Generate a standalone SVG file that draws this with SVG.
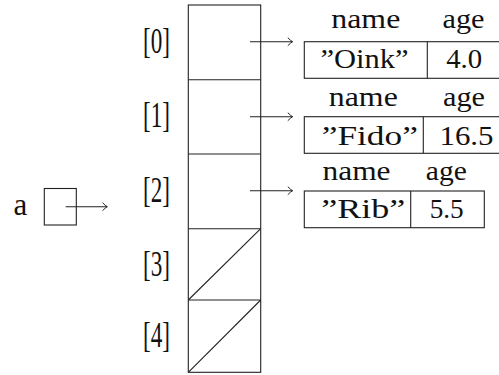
<svg xmlns="http://www.w3.org/2000/svg" width="499" height="375" viewBox="0 0 499 375">
  <style>
    .ln { fill: none; stroke: #222; stroke-width: 1.1; }
    .tx { font-family: "Liberation Serif", "DejaVu Serif", serif; fill: #111; text-anchor: middle; }
    .idx { font-size: 35px; }
    .fld { font-size: 27px; }
    .val { font-size: 28px; }
  </style>
  <defs>
    <marker id="to" markerWidth="10" markerHeight="10" refX="0" refY="0" viewBox="-6 -5 8 10" orient="auto" markerUnits="userSpaceOnUse">
      <path d="M -4.5,-4 Q -1.5,-0.8 0.4,0 Q -1.5,0.8 -4.5,4" fill="none" stroke="#222" stroke-width="1"/>
    </marker>
  </defs>
  <rect width="499" height="375" fill="#fff"/>

  <!-- variable a -->
  <g id="var-a">
    <text class="tx" x="20.5" y="215" style="font-size:31px">a</text>
    <rect class="ln" x="44.3" y="188.5" width="32" height="36.5"/>
  </g>

  <!-- array of five references -->
  <g id="array">
    <rect class="ln" x="188.3" y="5" width="72.4" height="367.3"/>
    <line class="ln" x1="188.3" y1="79.7" x2="260.7" y2="79.7"/>
    <line class="ln" x1="188.3" y1="154" x2="260.7" y2="154"/>
    <line class="ln" x1="188.3" y1="228.7" x2="260.7" y2="228.7"/>
    <line class="ln" x1="188.3" y1="300" x2="260.7" y2="300"/>
    <!-- null slots -->
    <line class="ln" x1="188.3" y1="300" x2="260.7" y2="228.7"/>
    <line class="ln" x1="188.3" y1="372.3" x2="260.7" y2="300"/>
  </g>
  <g id="indices">
    <text class="tx idx" x="156.5" y="52.5" textLength="27" lengthAdjust="spacingAndGlyphs">[0]</text>
    <text class="tx idx" x="156.5" y="127" textLength="27" lengthAdjust="spacingAndGlyphs">[1]</text>
    <text class="tx idx" x="156.5" y="202" textLength="27" lengthAdjust="spacingAndGlyphs">[2]</text>
    <text class="tx idx" x="156.5" y="276" textLength="27" lengthAdjust="spacingAndGlyphs">[3]</text>
    <text class="tx idx" x="156.5" y="346.5" textLength="27" lengthAdjust="spacingAndGlyphs">[4]</text>
  </g>

  <!-- records -->
  <g id="rec-oink">
    <text class="tx fld" x="365.8" y="27.7" textLength="69" lengthAdjust="spacingAndGlyphs">name</text>
    <text class="tx fld" x="463.5" y="27.7" textLength="42" lengthAdjust="spacingAndGlyphs">age</text>
    <rect class="ln" x="304.3" y="41.7" width="200" height="36.6"/>
    <line class="ln" x1="427.3" y1="41.7" x2="427.3" y2="78.3"/>
    <text class="tx val" x="364.5" y="68.3" textLength="88" lengthAdjust="spacingAndGlyphs">”Oink”</text>
    <text class="tx val" x="464.2" y="68.3" textLength="36" lengthAdjust="spacingAndGlyphs">4.0</text>
  </g>
  <g id="rec-fido">
    <text class="tx fld" x="363.3" y="105.7" textLength="69" lengthAdjust="spacingAndGlyphs">name</text>
    <text class="tx fld" x="464" y="105.7" textLength="42" lengthAdjust="spacingAndGlyphs">age</text>
    <rect class="ln" x="304.3" y="116.7" width="200" height="36.6"/>
    <line class="ln" x1="423.3" y1="116.7" x2="423.3" y2="153.3"/>
    <text class="tx val" x="369.8" y="145" textLength="96" lengthAdjust="spacingAndGlyphs">”Fido”</text>
    <text class="tx val" x="466.5" y="145" textLength="54" lengthAdjust="spacingAndGlyphs">16.5</text>
  </g>
  <g id="rec-rib">
    <text class="tx fld" x="356.5" y="180" textLength="68" lengthAdjust="spacingAndGlyphs">name</text>
    <text class="tx fld" x="446.3" y="180" textLength="41" lengthAdjust="spacingAndGlyphs">age</text>
    <rect class="ln" x="304.3" y="191" width="180" height="36.7"/>
    <line class="ln" x1="410.7" y1="191" x2="410.7" y2="227.7"/>
    <text class="tx val" x="363.3" y="218.3" textLength="84" lengthAdjust="spacingAndGlyphs">”Rib”</text>
    <text class="tx val" x="446.7" y="218.3" textLength="34" lengthAdjust="spacingAndGlyphs">5.5</text>
  </g>

  <!-- references -->
  <g id="connectors">
    <line class="ln" x1="65.7" y1="206.7" x2="107" y2="206.7" marker-end="url(#to)"/>
    <line class="ln" x1="250" y1="41.7" x2="292.3" y2="41.7" marker-end="url(#to)"/>
    <line class="ln" x1="250" y1="116.7" x2="292.3" y2="116.7" marker-end="url(#to)"/>
    <line class="ln" x1="250" y1="190.7" x2="292.3" y2="190.7" marker-end="url(#to)"/>
  </g>
</svg>
